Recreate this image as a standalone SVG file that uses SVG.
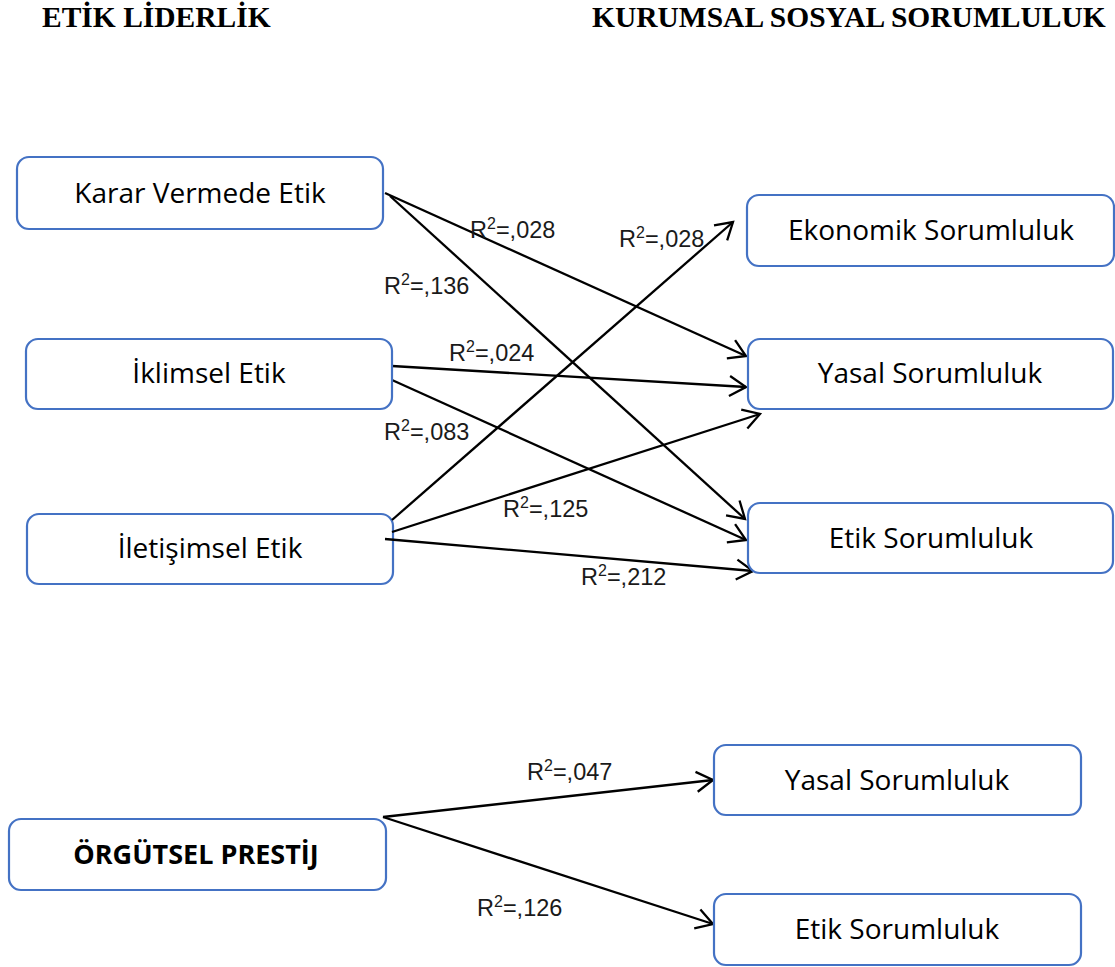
<svg xmlns="http://www.w3.org/2000/svg" width="1115" height="967" viewBox="0 0 1115 967">
<style>
.title{font-family:"Liberation Serif","Times New Roman",serif;font-weight:bold;font-size:29.5px;fill:#000}
.box{fill:#fff;stroke:#4472C4;stroke-width:2.2}
.nt{font-family:"Open Sans","Noto Sans",sans-serif;font-size:28px;fill:#000;text-anchor:middle}
.nb{font-family:"Open Sans","Noto Sans",sans-serif;font-size:27px;font-weight:bold;fill:#000;text-anchor:middle}
.lab{font-family:"Liberation Sans",Arial,sans-serif;font-size:23.5px;fill:#1a1a1a}
.sup{font-size:16px}
.conn line{stroke:#000;stroke-width:2.3;fill:none;marker-end:url(#arr)}
</style>
<defs>
<marker id="arr" viewBox="-20 -12 22 24" markerWidth="22" markerHeight="24" refX="0" refY="0" orient="auto" markerUnits="userSpaceOnUse" overflow="visible">
<path d="M-16.5,-10 L0,0 L-16.5,10" fill="none" stroke="#000" stroke-width="2.3" stroke-linejoin="miter"/>
</marker>
</defs>
<rect width="1115" height="967" fill="#fff"/>
<text class="title" x="42" y="27">ETİK LİDERLİK</text>
<text class="title" x="592" y="27">KURUMSAL SOSYAL SORUMLULUK</text>

<g id="n-iletisimsel">
<rect class="box" x="27" y="514" width="366" height="70" rx="12"/>
<text class="nt" x="210" y="558">İletişimsel Etik</text>
</g>

<g id="connectors" class="conn">
<line x1="385" y1="193" x2="746" y2="356"/>
<line x1="390" y1="196" x2="745" y2="519"/>
<line x1="392" y1="366" x2="746" y2="387"/>
<line x1="392" y1="380" x2="746" y2="540"/>
<line x1="392" y1="520" x2="733" y2="222"/>
<line x1="392" y1="532" x2="760" y2="414"/>
<line x1="385" y1="539" x2="753" y2="571"/>
<line x1="383" y1="817" x2="713" y2="780"/>
<line x1="383" y1="817" x2="713" y2="924"/>
</g>

<g id="n-karar">
<rect class="box" x="17" y="157" width="366" height="72" rx="12"/>
<text class="nt" x="200" y="203">Karar Vermede Etik</text>
</g>
<g id="n-iklimsel">
<rect class="box" x="26" y="339" width="366" height="70" rx="12"/>
<text class="nt" x="209" y="383">İklimsel Etik</text>
</g>
<g id="n-ekonomik">
<rect class="box" x="747" y="195" width="367" height="71" rx="12"/>
<text class="nt" x="931" y="240">Ekonomik Sorumluluk</text>
</g>
<g id="n-yasal1">
<rect class="box" x="748" y="339" width="365" height="70" rx="12"/>
<text class="nt" x="930" y="383">Yasal Sorumluluk</text>
</g>
<g id="n-etik1">
<rect class="box" x="748" y="503" width="365" height="70" rx="12"/>
<text class="nt" x="931" y="548">Etik Sorumluluk</text>
</g>
<g id="n-prestij">
<rect class="box" x="9" y="819" width="377" height="71" rx="12"/>
<text class="nb" x="196" y="864">ÖRGÜTSEL PRESTİJ</text>
</g>
<g id="n-yasal2">
<rect class="box" x="714" y="745" width="367" height="70" rx="12"/>
<text class="nt" x="897" y="790">Yasal Sorumluluk</text>
</g>
<g id="n-etik2">
<rect class="box" x="714" y="894" width="367" height="71" rx="12"/>
<text class="nt" x="897" y="939">Etik Sorumluluk</text>
</g>

<g id="labels">
<text class="lab" x="470" y="238">R<tspan class="sup" dy="-9">2</tspan><tspan dy="9">=,028</tspan></text>
<text class="lab" x="619" y="247">R<tspan class="sup" dy="-9">2</tspan><tspan dy="9">=,028</tspan></text>
<text class="lab" x="384" y="294">R<tspan class="sup" dy="-9">2</tspan><tspan dy="9">=,136</tspan></text>
<text class="lab" x="449" y="361">R<tspan class="sup" dy="-9">2</tspan><tspan dy="9">=,024</tspan></text>
<text class="lab" x="384" y="440">R<tspan class="sup" dy="-9">2</tspan><tspan dy="9">=,083</tspan></text>
<text class="lab" x="503" y="517">R<tspan class="sup" dy="-9">2</tspan><tspan dy="9">=,125</tspan></text>
<text class="lab" x="581" y="585">R<tspan class="sup" dy="-9">2</tspan><tspan dy="9">=,212</tspan></text>
<text class="lab" x="527" y="780">R<tspan class="sup" dy="-9">2</tspan><tspan dy="9">=,047</tspan></text>
<text class="lab" x="477" y="916">R<tspan class="sup" dy="-9">2</tspan><tspan dy="9">=,126</tspan></text>
</g>
</svg>
